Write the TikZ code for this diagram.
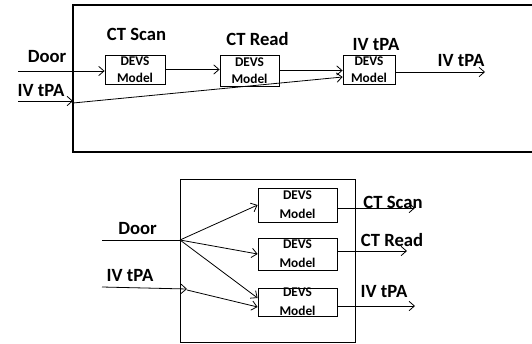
\documentclass[tikz,border=0pt]{standalone}
\usepackage{fontspec}
\setmainfont{Carlito}
\usetikzlibrary{calc,arrows.meta}

\begin{document}
\begin{tikzpicture}[x=0.75pt,y=-0.75pt,
	every node/.style={inner sep=0.5pt, font=\bfseries\fontsize{14}{16}\selectfont},
	devs/.style={draw, line width=0.6pt, inner sep=0pt, align=center, font=\bfseries\fontsize{10}{14}\selectfont},
	tight/.style={font=\bfseries\fontsize{10}{12.5}\selectfont},
	link/.style={-{Straight Barb[length=4pt,width=7pt]}, line width=0.6pt},
	frame/.style={line width=0.9pt}]
	
	\useasboundingbox (0,0) rectangle (532,343);
	
	% chain of models
	\draw[frame] (532,5) -- (73,5) -- (73,152) -- (532,152);
	
	\node[devs, tight, minimum width=45pt, minimum height=21.75pt] (scan) at (135,69.5) {DEVS\\Model};
	\node[devs, tight, minimum width=44.25pt, minimum height=23.25pt] (read) at (249.5,70.5) {DEVS\\Model};
	\node[devs, tight, minimum width=39pt, minimum height=21.75pt] (ivbox) at (369,69.5) {DEVS\\Model};
	
	\node (scanlbl) at (136.5,34.5) {CT Scan};
	\node (readlbl) at (257.5,39) {CT Read};
	\node (ivlbl) at (376,45) {IV tPA};
	\node (doorlbl) at (47,57) {Door};
	\node (ivinlbl) at (41,91) {IV tPA};
	\node (ivoutlbl) at (461,61) {IV tPA};
	
	\coordinate (doorin) at (18,71);
	\coordinate (ivin) at (18,101);
	\coordinate (ivedge) at (73,101);
	\coordinate (ivout) at (485,72);
	
	\draw[link] (doorin) -- (doorin -| scan.west);
	\draw[link] (scan.east) -- (scan.east -| read.west);
	\draw[link] (read.east) -- (read.east -| ivbox.west);
	\draw[link] (ivin) -- (ivedge);
	\draw[link] ($(ivedge)+(0,2)$) -- ($(ivbox.west)+(0,7.5)$);
	\draw[link] ($(ivbox.east)+(0,2.5)$) -- (ivout);
	
	% parallel models
	\draw[frame, line width=0.75pt] (180,179) rectangle (355,342);
	
	\node[devs, minimum width=59.25pt, minimum height=25.5pt] (m1) at (297.5,205) {DEVS\\Model};
	\node[devs, minimum width=59.25pt, minimum height=24pt] (m2) at (297.5,254) {DEVS\\Model};
	\node[devs, minimum width=59.25pt, minimum height=21pt] (m3) at (297.5,302) {DEVS\\Model};
	
	\node (m1lbl) at (393,202) {CT Scan};
	\node (m2lbl) at (392,240) {CT Read};
	\node (m3lbl) at (384,292) {IV tPA};
	\node (bdoorlbl) at (137.5,228.5) {Door};
	\node (bivlbl) at (130,276) {IV tPA};
	
	\coordinate (hub) at (180,240);
	\coordinate (bdoor) at (102,240);
	\coordinate (bivin) at (102,287);
	\coordinate (bivmid) at (187,289);
	\coordinate (out1) at (415,208);
	\coordinate (out2) at (407,251);
	\coordinate (out3) at (415,306);
	
	\draw[line width=0.6pt] (bdoor) -- (hub);
	\draw[link] (hub) -- (m1.west);
	\draw[link] (hub) -- (m2.west);
	\draw[link] (hub) -- ($(m3.west)+(0,-4)$);
	\draw[link] (bivin) -- (bivmid);
	\draw[link] ($(bivmid)+(0,1)$) -- ($(m3.west)+(0,5)$);
	
	\draw[link] ($(m1.east)+(0,3)$) -- (out1);
	\draw[link] ($(m2.east)+(0,-3)$) -- (out2);
	\draw[link] ($(m3.east)+(0,4)$) -- (out3);
\end{tikzpicture}
\end{document}
